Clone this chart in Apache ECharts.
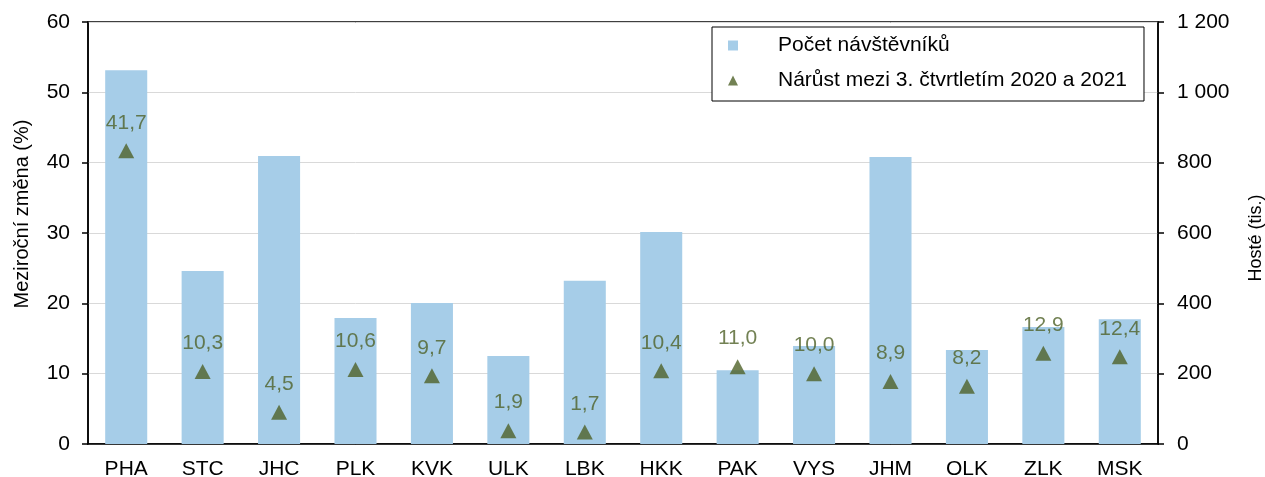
<!DOCTYPE html>
<html><head><meta charset="utf-8">
<script src="https://cdn.jsdelivr.net/npm/echarts@6/dist/echarts.min.js"></script>
<style>html,body{margin:0;padding:0;background:#fff}#c{width:1265px;height:477px}</style>
</head><body><div id="c"></div>
<script>
var categories = ['PHA','STC','JHC','PLK','KVK','ULK','LBK','HKK','PAK','VYS','JHM','OLK','ZLK','MSK'];
var guests = [1063, 492, 819, 358, 401, 250, 464, 603, 210, 279, 816, 267, 333, 355];
var growth = [41.7, 10.3, 4.5, 10.6, 9.7, 1.9, 1.7, 10.4, 11.0, 10.0, 8.9, 8.2, 12.9, 12.4];
var seriesNames = ['Počet návštěvníků', 'Nárůst mezi 3. čtvrtletím 2020 a 2021'];
var leftAxisName = 'Meziroční změna (%)';
var rightAxisName = 'Hosté (tis.)';

var font = 'Liberation Sans, Arial, sans-serif';
var chart = echarts.init(document.getElementById('c'), null, {renderer: 'canvas'});
chart.setOption({
  animation: false,
  backgroundColor: '#fff',
  textStyle: {fontFamily: font},
  grid: {left: 88, right: 107, top: 22, bottom: 33, show: true, borderColor: '#000', borderWidth: 1.5,
         containLabel: false, outerBoundsMode: 'none'},
  legend: {
    orient: 'vertical', left: 712, top: 27,
    padding: [6, 17, 8, 16], itemGap: 10,
    itemWidth: 10, itemHeight: 10,
    backgroundColor: '#fff', borderColor: '#000', borderWidth: 1,
    textStyle: {fontSize: 21, color: '#000', fontFamily: font, lineHeight: 25, padding: [0, 0, 0, 35]},
    data: [
      {name: seriesNames[0], icon: 'rect'},
      {name: seriesNames[1], icon: 'triangle'}
    ]
  },
  xAxis: {
    type: 'category', data: categories,
    axisLine: {lineStyle: {color: '#000', width: 1.5}},
    axisTick: {show: false},
    axisLabel: {fontSize: 21, color: '#000', margin: 15, fontFamily: font}
  },
  yAxis: [
    {
      type: 'value', min: 0, max: 60, interval: 10,
      name: leftAxisName, nameLocation: 'middle', nameGap: 56, nameRotate: 90,
      nameTextStyle: {fontSize: 20, color: '#000', fontFamily: font, padding: [0, 0, 0, 38]},
      axisLine: {show: true, lineStyle: {color: '#000', width: 1.5}},
      axisTick: {show: true, length: 6, lineStyle: {color: '#000', width: 1.5}},
      axisLabel: {fontSize: 21, color: '#000', margin: 18, fontFamily: font},
      splitLine: {show: true, lineStyle: {color: '#d9d9d9', width: 1}}
    },
    {
      type: 'value', min: 0, max: 1200, interval: 200,
      name: rightAxisName, nameLocation: 'middle', nameGap: 89, nameRotate: 90,
      nameTextStyle: {fontSize: 18, color: '#000', fontFamily: font, padding: [0, 10, 0, 0]},
      axisLine: {show: true, lineStyle: {color: '#000', width: 1.5}},
      axisTick: {show: true, length: 6, lineStyle: {color: '#000', width: 1.5}},
      axisLabel: {fontSize: 21, color: '#000', margin: 19, fontFamily: font,
        formatter: function (v) { return String(v).replace(/\B(?=(\d{3})+(?!\d))/g, ' '); }},
      splitLine: {show: false}
    }
  ],
  series: [
    {
      name: seriesNames[0], type: 'bar', yAxisIndex: 1, data: guests,
      barWidth: '55%', itemStyle: {color: '#a6cde8'}, z: 1
    },
    {
      name: seriesNames[1], type: 'scatter', yAxisIndex: 0, data: growth,
      symbol: 'triangle', symbolSize: [16, 15],
      itemStyle: {color: '#4f6228'}, z: 3,
      label: {
        show: true, position: 'top', distance: 10,
        fontSize: 21, color: '#4f6228', fontFamily: font,
        formatter: function (p) { return p.value.toFixed(1).replace('.', ','); }
      }
    }
  ]
});
</script></body></html>
